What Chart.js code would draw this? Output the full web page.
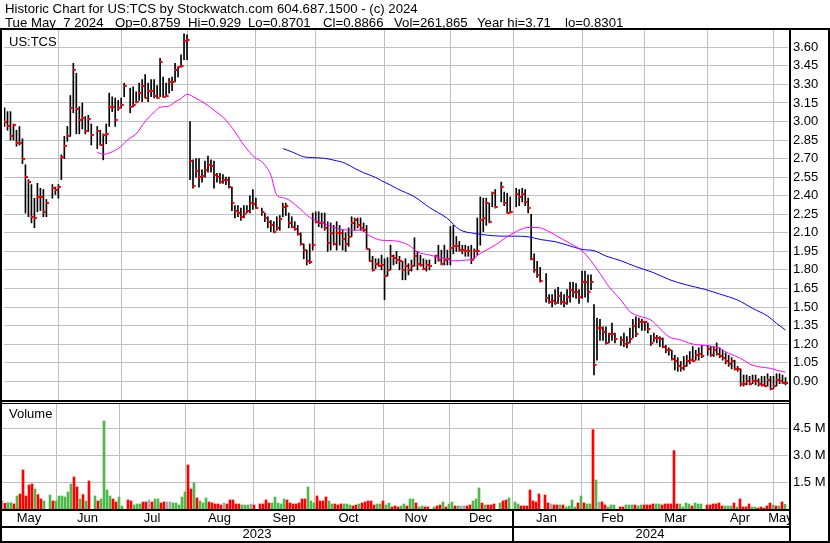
<!DOCTYPE html>
<html>
<head>
<meta charset="utf-8">
<title>US:TCS historic chart</title>
<script src="https://cdn.jsdelivr.net/npm/chart.js@4.4.1/dist/chart.umd.min.js"></script>
<style>
  html, body { margin: 0; padding: 0; background: #fff; }
  #wrap { position: relative; width: 830px; height: 543px; overflow: hidden;
          font-family: "Liberation Sans", Arial, sans-serif; font-size: 13px; color: #000; }
  canvas { position: absolute; left: 0; top: 0; }
  .t { position: absolute; white-space: pre; line-height: 13px; }
  .h { font-size: 13.2px; }
  .k { position: absolute; background: #000; }
</style>
</head>
<body>
<div id="wrap">
  <canvas id="price" width="830" height="543"></canvas>
  <canvas id="volume" width="830" height="543"></canvas>

  <div class="t h" style="left:5px;top:2px">Historic Chart for US:TCS by Stockwatch.com 604.687.1500 - (c) 2024</div>
  <div class="t h" style="left:5px;top:16px">Tue May  7 2024</div>
  <div class="t h" style="left:115px;top:16px">Op=0.8759</div>
  <div class="t h" style="left:188px;top:16px">Hi=0.929</div>
  <div class="t h" style="left:248px;top:16px">Lo=0.8701</div>
  <div class="t h" style="left:323px;top:16px">Cl=0.8866</div>
  <div class="t h" style="left:394px;top:16px">Vol=261,865</div>
  <div class="t h" style="left:477px;top:16px">Year hi=3.71</div>
  <div class="t h" style="left:565px;top:16px">lo=0.8301</div>

  <div class="t" style="left:9px;top:35px">US:TCS</div>
  <div class="t" style="left:9px;top:407px">Volume</div>

  <!-- frame -->
  <div class="k" style="left:0;top:28px;width:830px;height:2px"></div>
  <div class="k" style="left:0;top:28px;width:2px;height:515px"></div>
  <div class="k" style="left:828px;top:28px;width:2px;height:515px"></div>
  <div class="k" style="left:789px;top:28px;width:2px;height:515px"></div>
  <div class="k" style="left:0;top:400px;width:791px;height:2px"></div>
  <div class="k" style="left:0;top:403px;width:791px;height:1px"></div>
  <div class="k" style="left:0;top:509px;width:791px;height:2px"></div>
  <div class="k" style="left:0;top:526px;width:791px;height:2px"></div>
  <div class="k" style="left:0;top:541px;width:830px;height:2px"></div>
  <div class="k" style="left:512px;top:509px;width:2px;height:34px"></div>
</div>

<script>
// Daily sessions (weekday slots) from Mon May 8 2023 to Tue May 7 2024.
// null = market holiday.
const high = [
  3.11,3.08,3.08,2.98,2.93,2.96,2.86,2.65,2.53,2.49,
  2.38,2.50,2.46,2.45,2.37,null,2.49,2.47,2.49,2.73,
  2.88,2.96,3.21,3.47,3.39,3.12,3.15,3.04,3.05,2.98,
  null,2.96,2.93,2.90,2.98,3.23,3.20,3.19,3.17,3.19,
  3.31,null,3.27,3.28,3.24,3.31,3.34,3.38,3.31,3.34,
  3.34,3.29,3.51,3.36,3.31,3.35,3.36,3.47,3.44,3.54,
  3.71,3.70,3.00,2.69,2.70,2.70,2.61,2.68,2.72,2.69,
  2.68,2.58,2.58,2.57,2.55,2.55,2.47,2.32,2.32,2.30,
  2.32,2.32,2.40,2.45,2.38,null,2.30,2.26,2.23,2.20,
  2.19,2.23,2.24,2.34,2.34,2.26,2.23,2.19,2.16,2.10,
  2.01,1.96,2.01,2.26,2.27,2.27,2.26,2.26,2.19,2.18,
  2.16,2.19,2.16,2.12,2.10,2.14,2.23,2.22,2.22,2.22,
  2.18,2.16,1.97,1.91,1.89,1.89,1.92,1.89,1.90,2.00,
  1.92,1.95,1.91,1.87,1.89,1.85,1.88,2.06,1.95,1.92,
  1.89,1.88,1.88,null,1.92,2.00,1.96,2.00,1.96,2.15,
  2.16,2.07,2.03,2.00,2.00,1.99,2.00,1.97,2.22,2.39,
  2.38,2.38,2.34,2.43,2.45,null,2.51,2.43,2.42,2.39,
  null,2.46,2.45,2.46,2.45,2.38,2.25,1.93,1.87,1.82,
  null,1.77,1.60,1.60,1.64,1.66,1.62,1.60,1.64,1.70,
  1.70,1.69,1.64,1.79,1.79,1.76,1.76,1.52,1.41,1.40,
  1.34,1.34,1.29,1.37,1.29,null,1.26,1.29,1.26,1.33,
  1.40,1.42,1.41,1.40,1.38,1.37,1.27,1.29,1.27,1.26,
  1.25,1.19,1.17,1.15,1.11,1.09,1.06,1.10,1.11,1.14,
  1.18,1.15,1.17,1.19,null,1.19,1.18,1.18,1.21,1.17,
  1.15,1.13,1.11,1.09,1.07,1.02,1.00,0.95,0.95,0.94,
  0.95,0.95,0.92,0.94,0.94,0.96,0.94,0.94,0.96,0.96,
  0.95,0.929
];
const low = [
  2.96,2.93,2.85,2.85,2.80,2.81,2.66,2.26,2.23,2.18,
  2.14,2.27,2.28,2.23,2.23,null,2.38,2.41,2.38,2.53,
  2.70,2.84,2.88,3.07,2.90,2.90,2.94,2.90,2.92,2.81,
  null,2.78,2.81,2.69,2.82,2.96,3.08,2.96,3.09,3.11,
  3.20,null,3.07,3.12,3.15,3.17,3.16,3.19,3.16,3.20,
  3.19,3.19,3.20,3.20,3.20,3.23,3.25,3.32,3.36,3.44,
  3.50,3.50,2.53,2.46,2.55,2.47,2.51,2.55,2.59,2.59,
  2.46,2.51,2.50,2.50,2.49,2.46,2.28,2.22,2.23,2.20,
  2.22,2.26,2.26,2.29,2.30,null,2.24,2.19,2.14,2.11,
  2.10,2.12,2.12,2.23,2.24,2.14,2.14,2.12,2.08,2.00,
  1.89,1.84,1.85,1.96,2.18,2.15,2.14,2.12,1.95,1.96,
  2.00,1.96,2.00,1.96,1.95,1.99,2.07,2.12,2.14,2.12,
  2.11,1.97,1.87,1.79,1.81,1.83,1.80,1.56,1.75,1.80,
  1.84,1.85,1.80,1.72,1.72,1.76,1.79,1.83,1.80,1.83,
  1.80,1.79,1.80,null,1.85,1.87,1.84,1.84,1.84,1.84,
  1.93,1.95,1.95,1.93,1.91,1.91,1.85,1.89,1.92,2.00,
  2.11,2.16,2.18,2.31,2.30,null,2.35,2.32,2.26,2.26,
  null,2.31,2.32,2.35,2.32,2.26,1.88,1.78,1.74,1.70,
  null,1.54,1.53,1.50,1.52,1.53,1.52,1.50,1.52,1.54,
  1.58,1.57,1.53,1.57,1.58,1.54,1.64,0.95,1.07,1.23,
  1.23,1.20,1.21,1.23,1.21,null,1.19,1.18,1.17,1.21,
  1.25,1.26,1.33,1.31,1.31,1.29,1.19,1.22,1.21,1.18,
  1.17,1.13,1.11,1.07,0.99,0.98,0.98,0.99,1.02,1.04,
  1.06,1.07,1.07,1.09,null,1.11,1.10,1.10,1.11,1.09,
  1.07,1.04,1.02,1.00,0.99,0.98,0.86,0.86,0.87,0.87,
  0.88,0.87,0.86,0.86,0.86,0.86,0.83,0.84,0.86,0.88,
  0.88,0.8701
];
const close = [
  3.00,2.96,2.88,2.97,2.83,2.83,2.70,2.55,2.51,2.23,
  2.22,2.39,2.39,2.27,2.34,null,2.46,2.45,2.47,2.71,
  2.80,2.88,3.11,3.42,3.10,3.01,3.03,2.92,3.02,2.89,
  null,2.92,2.81,2.89,2.90,3.12,3.12,3.01,3.11,3.13,
  3.29,null,3.12,3.13,3.16,3.23,3.29,3.19,3.25,3.25,
  3.21,3.19,3.48,3.20,3.21,3.32,3.32,3.42,3.44,3.45,
  3.65,3.66,2.68,2.48,2.60,2.55,2.56,2.61,2.65,2.64,
  2.57,2.55,2.51,2.53,2.53,2.47,2.34,2.28,2.26,2.23,
  2.25,2.28,2.34,2.33,2.30,null,2.27,2.22,2.19,2.16,
  2.11,2.14,2.21,2.31,2.32,2.18,2.15,2.13,2.09,2.01,
  1.96,1.87,1.86,2.00,2.19,2.18,2.18,2.14,2.02,2.10,
  2.01,2.10,2.10,2.05,2.01,2.07,2.18,2.20,2.16,2.14,
  2.12,1.97,1.87,1.80,1.85,1.83,1.84,1.75,1.80,1.91,
  1.90,1.88,1.87,1.80,1.83,1.80,1.83,1.91,1.85,1.84,
  1.81,1.84,1.83,null,1.91,1.88,1.85,1.88,1.89,1.98,
  1.99,1.99,1.96,1.96,1.95,1.95,1.88,1.95,1.95,2.20,
  2.22,2.34,2.19,2.42,2.31,null,2.47,2.34,2.26,2.27,
  null,2.41,2.39,2.41,2.35,2.30,1.89,1.80,1.76,1.71,
  null,1.57,1.54,1.55,1.53,1.59,1.54,1.53,1.58,1.64,
  1.62,1.62,1.58,1.70,1.70,1.62,1.70,1.03,1.33,1.33,
  1.30,1.21,1.28,1.28,1.24,null,1.23,1.20,1.21,1.24,
  1.35,1.28,1.38,1.38,1.38,1.32,1.21,1.25,1.25,1.24,
  1.18,1.15,1.15,1.08,1.06,1.02,1.01,1.02,1.06,1.07,
  1.06,1.11,1.12,1.10,null,1.16,1.11,1.15,1.12,1.10,
  1.09,1.06,1.04,1.06,1.00,1.00,0.88,0.88,0.90,0.88,
  0.90,0.90,0.88,0.87,0.86,0.91,0.84,0.86,0.91,0.90,
  0.885,0.8866
];
// Shares traded per session, in millions.
const volumeM = [
  0.447,0.317,0.354,0.354,0.280,0.726,0.838,2.176,0.726,1.340,
  1.395,1.116,0.800,0.559,0.447,null,0.782,0.447,0.447,0.726,
  0.726,0.670,0.949,1.395,1.786,1.228,0.559,0.800,0.447,1.563,
  null,0.726,0.447,0.559,4.908,1.060,0.726,0.559,0.391,0.670,
  0.168,null,0.503,0.447,0.224,0.280,0.280,0.391,0.391,0.503,
  0.391,0.559,0.559,0.336,0.391,0.391,0.391,0.336,0.336,0.224,
  0.670,0.949,2.455,1.116,1.451,0.615,0.447,0.336,0.615,0.391,
  0.336,0.280,0.280,0.224,0.336,0.280,0.503,0.503,0.280,0.280,
  0.224,0.224,0.224,0.280,0.224,null,0.280,0.280,0.503,0.336,
  0.336,0.670,0.336,0.280,0.559,0.503,0.336,0.280,0.280,0.336,
  0.559,0.559,1.228,0.447,0.336,0.726,0.447,0.447,0.670,0.447,
  0.280,0.280,0.224,0.280,0.280,0.280,0.224,0.168,0.224,0.280,
  0.336,0.391,0.447,0.447,0.224,0.280,0.280,0.447,0.224,0.336,
  0.113,0.168,0.113,0.168,0.280,0.168,0.559,0.559,0.336,0.113,
  0.168,0.113,0.113,null,0.113,0.168,0.224,0.391,0.113,0.280,
  0.391,0.168,0.168,0.168,0.168,0.168,0.224,0.447,0.559,1.172,
  0.336,0.224,0.224,0.224,0.280,null,0.336,0.447,0.503,0.615,
  null,0.391,0.280,0.168,0.168,0.168,1.060,0.447,0.391,0.838,
  null,0.782,0.336,0.280,0.224,0.224,0.224,0.224,0.113,0.168,
  0.503,0.113,0.336,0.726,0.336,0.280,0.280,4.425,1.618,0.391,
  0.391,0.224,0.113,0.224,0.224,null,0.113,0.113,0.224,0.224,
  0.224,0.224,0.168,0.224,0.224,0.224,0.224,0.280,0.280,0.280,
  0.224,0.280,0.280,0.280,3.254,0.280,0.280,0.113,0.336,0.280,
  0.168,0.336,0.280,0.280,null,0.224,0.224,0.280,0.280,0.336,
  0.168,0.168,0.168,0.168,0.336,0.113,0.559,0.113,0.113,0.280,
  0.113,0.113,0.057,0.113,0.057,0.168,0.336,0.224,0.168,0.168,
  0.391,0.261865
];
// Session direction: 1 up, -1 down, 0 unchanged.
const direction = [
  0,-1,1,1,-1,1,-1,-1,-1,-1,
  -1,1,-1,-1,1,null,1,-1,1,1,
  1,1,1,1,-1,-1,1,-1,1,-1,
  null,1,-1,1,1,1,1,-1,-1,1,
  1,null,-1,-1,1,1,1,-1,-1,0,
  -1,1,1,-1,-1,0,0,1,1,1,
  1,1,-1,-1,1,-1,1,1,1,-1,
  -1,-1,-1,-1,0,-1,-1,-1,-1,-1,
  1,1,1,0,-1,null,-1,-1,-1,-1,
  1,1,1,1,1,-1,-1,-1,-1,-1,
  -1,-1,1,1,1,-1,-1,-1,-1,1,
  1,-1,-1,-1,1,1,1,-1,-1,1,
  -1,-1,-1,-1,-1,1,1,-1,1,1,
  -1,-1,-1,1,1,-1,1,1,-1,1,
  1,-1,-1,null,1,-1,-1,1,-1,1,
  1,-1,1,0,0,-1,-1,1,1,1,
  -1,1,-1,-1,-1,null,1,-1,-1,1,
  null,1,1,-1,-1,-1,-1,-1,-1,-1,
  null,-1,-1,0,-1,-1,1,-1,1,1,
  1,1,-1,1,-1,1,1,-1,1,0,
  -1,-1,1,1,1,null,-1,-1,1,1,
  1,-1,1,1,-1,-1,-1,-1,1,1,
  -1,-1,-1,-1,-1,-1,1,1,1,1,
  -1,1,1,1,null,-1,-1,-1,-1,-1,
  -1,1,1,1,-1,1,-1,-1,-1,-1,
  1,1,-1,-1,-1,-1,-1,1,-1,1,
  -1,1
];

// Moving averages, sampled at session slots.
const maFastIdx = [31,33,36,39,41,44,47,50,52,55,57,59,61,64,67,70,74,77,80,84,
  86,89,91,94,98,102,106,110,115,119,122,126,130,135,138,142,147,150,154,156,
  159,164,168,172,175,178,181,185,189,193,196,199,202,206,209,212,216,219,222,226,
  229,232,236,239,242,246,249,252,256,258,261];
const maFastVal = [2.750,2.735,2.755,2.800,2.850,2.900,3.000,3.075,3.115,3.125,
  3.160,3.185,3.220,3.187,3.146,3.092,3.011,2.917,2.809,2.702,
  2.675,2.567,2.405,2.378,2.311,2.224,2.181,2.144,2.122,2.122,
  2.076,2.040,2.036,2.001,1.947,1.920,1.893,1.874,1.879,1.885,
  1.933,2.001,2.068,2.122,2.143,2.143,2.122,2.068,2.014,1.955,
  1.873,1.772,1.664,1.556,1.462,1.427,1.395,1.327,1.260,1.233,
  1.206,1.193,1.184,1.166,1.125,1.085,1.039,1.017,1.004,0.990,0.972];
const maSlowIdx = [93,96,100,104,107,110,114,117,120,124,126,129,131,137,142,148,152,157,161,166,
  170,175,179,184,188,193,197,201,206,211,217,222,228,234,239,245,250,255,258,261];
const maSlowVal = [2.782,2.755,2.715,2.707,2.702,2.688,2.661,2.621,2.586,2.548,
  2.521,2.486,2.459,2.391,2.305,2.216,2.127,2.095,2.082,2.073,
  2.073,2.068,2.046,2.028,2.001,1.966,1.955,1.912,1.874,1.826,
  1.777,1.723,1.678,1.643,1.605,1.556,1.489,1.427,1.368,1.314];

// Axis labelling
const priceTicks = [0.90,1.05,1.20,1.35,1.50,1.65,1.80,1.95,2.10,2.25,2.40,2.55,2.70,2.85,3.00,3.15,3.30,3.45,3.60];
const volumeTicksM = [1.5, 3.0, 4.5];
const monthStarts = [18,39,61,84,104,127,149,170,193,214,235,257];
const monthNames = ['May','Jun','Jul','Aug','Sep','Oct','Nov','Dec','Jan','Feb','Mar','Apr','May'];
const yearBreak = 170;
const yearNames = ['2023','2024'];

const SLOTS = 262;
const GRID = '#c0c0c0';
const UP = '#50b848', DOWN = '#ff0000', FLAT = '#a8a8a8';

Chart.defaults.font.family = '"Liberation Sans", Arial, sans-serif';
Chart.defaults.font.size = 13;
Chart.defaults.color = '#000';

function monthGridAxis(min, max) {
  return {
    type: 'linear', min, max, offset: false,
    grid: { color: GRID, lineWidth: 1, drawTicks: false, offset: false },
    border: { display: false },
    ticks: { display: false },
    afterBuildTicks: s => { s.ticks = monthStarts.map(v => ({ value: v })); },
    afterFit: s => { s.height = 0; }
  };
}

// Close tick: small red dash starting on each high-low line and running right.
const closeMark = document.createElement('canvas');
closeMark.width = 9; closeMark.height = 2;
(function () { const g = closeMark.getContext('2d'); g.fillStyle = '#ff0000'; g.fillRect(4, 0, 3, 2); })();

const ranges = [], closes = [];
high.forEach((h, i) => {
  if (h == null) return;
  ranges.push({ x: i, y: [low[i], h] });
  closes.push({ x: i, y: close[i] });
});

new Chart(document.getElementById('price'), {
  type: 'bar',
  data: {
    datasets: [
      { type: 'line', data: maFastIdx.map((x, k) => ({ x, y: maFastVal[k] })),
        borderColor: '#ff00ff', borderWidth: 1, pointRadius: 0, fill: false,
        cubicInterpolationMode: 'monotone', order: 0 },
      { type: 'line', data: maSlowIdx.map((x, k) => ({ x, y: maSlowVal[k] })),
        borderColor: '#0000ff', borderWidth: 1, pointRadius: 0, fill: false,
        cubicInterpolationMode: 'monotone', order: 1 },
      { type: 'line', data: closes, showLine: false, pointStyle: closeMark,
        pointRadius: 3, pointBorderWidth: 0, order: 2 },
      { type: 'bar', data: ranges, backgroundColor: '#000', borderWidth: 0,
        barThickness: 1, order: 3 }
    ]
  },
  options: {
    responsive: false, animation: false, devicePixelRatio: 1, events: [],
    layout: { padding: { left: 2, right: 0, top: 30, bottom: 143 } },
    plugins: { legend: { display: false }, tooltip: { enabled: false } },
    scales: {
      x: monthGridAxis(-1 / 6, SLOTS - 1 / 6),
      y: {
        position: 'right', min: 0.748, max: 3.740,
        grid: { color: GRID, lineWidth: 1, drawTicks: false },
        border: { display: false },
        ticks: { padding: 5, autoSkip: false, callback: v => Number(v).toFixed(2) },
        afterBuildTicks: s => { s.ticks = priceTicks.map(v => ({ value: v })); },
        afterFit: s => { s.width = 42; }
      }
    }
  }
});

// Month and year captions beneath the volume panel.
const dateCaptions = {
  id: 'dateCaptions',
  afterDraw(chart) {
    const xs = chart.scales.x, ctx = chart.ctx;
    const bounds = [xs.min, ...monthStarts, xs.max].map(v => xs.getPixelForValue(v));
    ctx.save();
    ctx.beginPath();
    ctx.rect(0, 511, 789, 32);
    ctx.clip();
    ctx.fillStyle = '#000';
    ctx.font = '13px "Liberation Sans", Arial, sans-serif';
    ctx.textAlign = 'center';
    ctx.textBaseline = 'middle';
    monthNames.forEach((m, k) => {
      ctx.fillText(m, (bounds[k] + bounds[k + 1]) / 2, 518);
    });
    const yb = [xs.min, yearBreak, xs.max].map(v => xs.getPixelForValue(v));
    yearNames.forEach((y, k) => {
      ctx.fillText(y, (yb[k] + yb[k + 1]) / 2, 534.5);
    });
    ctx.restore();
  }
};

const volBars = [];
volumeM.forEach((v, i) => { if (v != null) volBars.push({ x: i, y: v * 1e6 }); });

new Chart(document.getElementById('volume'), {
  type: 'bar',
  data: {
    datasets: [{
      data: volBars, borderWidth: 0, barThickness: 2,
      backgroundColor: c => {
        const d = direction[c.raw ? c.raw.x : 0];
        return d > 0 ? UP : d < 0 ? DOWN : FLAT;
      }
    }]
  },
  options: {
    responsive: false, animation: false, devicePixelRatio: 1, events: [],
    layout: { padding: { left: 2, right: 0, top: 404, bottom: 34 } },
    plugins: { legend: { display: false }, tooltip: { enabled: false } },
    scales: {
      x: monthGridAxis(0, SLOTS),
      y: {
        position: 'right', min: 0, max: 5.856e6,
        grid: { color: GRID, lineWidth: 1, drawTicks: false },
        border: { display: false },
        ticks: { padding: 5, autoSkip: false, callback: v => (v / 1e6).toFixed(1) + ' M' },
        afterBuildTicks: s => { s.ticks = volumeTicksM.map(v => ({ value: v * 1e6 })); },
        afterFit: s => { s.width = 42; }
      }
    }
  },
  plugins: [dateCaptions]
});
</script>
</body>
</html>
